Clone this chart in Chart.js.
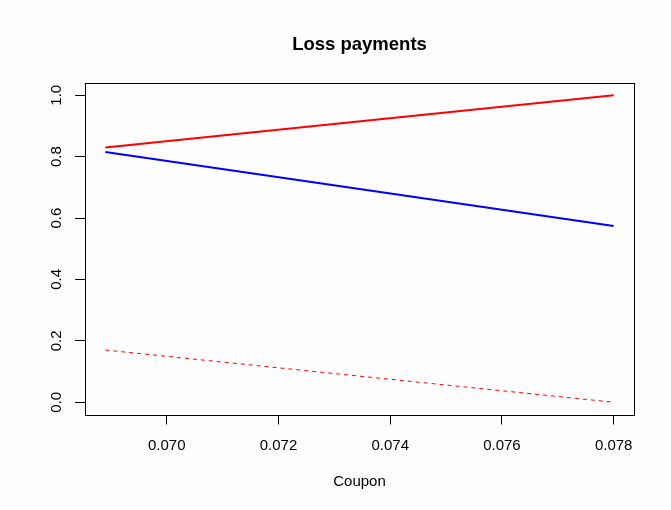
<!DOCTYPE html>
<html>
<head>
<meta charset="utf-8">
<title>Loss payments</title>
<script src="https://cdn.jsdelivr.net/npm/chart.js@4.4.1/dist/chart.umd.min.js"></script>
<style>
  html, body { margin: 0; padding: 0; background: #fdfdfd; }
  #wrap { width: 671px; height: 510px; }
</style>
</head>
<body>
<div id="wrap"><canvas id="chart" width="671" height="510"></canvas></div>
<script>
// Values
const coupon = [0.0689, 0.078];
const lossRed = [0.83, 1.0];
const lossBlue = [0.815, 0.574];
const lossRedDashed = [0.17, 0.0];
const xTicks = [0.070, 0.072, 0.074, 0.076, 0.078];
const yTicks = [0.0, 0.2, 0.4, 0.6, 0.8, 1.0];

const FONT = "'Liberation Sans', Arial, Helvetica, sans-serif";

// R style axis range: data range extended by 4% each side
function rRange(vals) {
  const lo = Math.min(...vals);
  const hi = Math.max(...vals);
  const pad = (hi - lo) * 0.04;
  return [lo - pad, hi + pad];
}

const [xMin, xMax] = rRange(coupon);
const [yMin, yMax] = rRange([...lossRed, ...lossBlue, ...lossRedDashed]);

const toPoints = (ys) => coupon.map((x, i) => ({ x: x, y: ys[i] }));

// Box round the plot region and the main title
const rPlotBox = {
  id: "rPlotBox",
  afterDraw(chart) {
    const { ctx, chartArea } = chart;
    ctx.save();
    ctx.strokeStyle = "#000";
    ctx.lineWidth = 1;
    ctx.strokeRect(
      Math.round(chartArea.left) + 0.5,
      Math.round(chartArea.top) + 0.5,
      Math.round(chartArea.right - chartArea.left),
      Math.round(chartArea.bottom - chartArea.top)
    );
    ctx.fillStyle = "#000";
    ctx.font = "bold 18.5px " + FONT;
    ctx.textAlign = "center";
    ctx.textBaseline = "alphabetic";
    ctx.fillText("Loss payments", (chartArea.left + chartArea.right) / 2, 50);
    ctx.restore();
  },
};

new Chart(document.getElementById("chart").getContext("2d"), {
  type: "scatter",
  data: {
    datasets: [
      {
        data: toPoints(lossRed),
        borderColor: "#ff0000",
        borderWidth: 2,
        showLine: true,
        pointRadius: 0,
      },
      {
        data: toPoints(lossBlue),
        borderColor: "#0000ff",
        borderWidth: 2,
        showLine: true,
        pointRadius: 0,
      },
      {
        data: toPoints(lossRedDashed),
        borderColor: "#ff0000",
        borderWidth: 1,
        borderDash: [4, 4],
        showLine: true,
        pointRadius: 0,
      },
    ],
  },
  options: {
    responsive: false,
    animation: false,
    devicePixelRatio: 1,
    layout: { padding: { top: 83, right: 37, bottom: 0, left: 0 } },
    plugins: {
      legend: { display: false },
      tooltip: { enabled: false },
    },
    scales: {
      x: {
        type: "linear",
        min: xMin,
        max: xMax,
        afterBuildTicks: (scale) => {
          scale.ticks = xTicks.map((v) => ({ value: v }));
        },
        afterFit: (scale) => {
          scale.height = 95.5;
        },
        border: { display: false },
        grid: {
          drawOnChartArea: false,
          drawTicks: true,
          tickLength: 10,
          color: "#000",
          lineWidth: 1,
        },
        ticks: {
          autoSkip: false,
          maxRotation: 0,
          padding: 12,
          color: "#000",
          font: { family: FONT, size: 15 },
          callback: (v) => Number(v).toFixed(3),
        },
        title: {
          display: true,
          text: "Coupon",
          color: "#000",
          font: { family: FONT, size: 15 },
          padding: { top: 0, bottom: 19 },
        },
      },
      y: {
        type: "linear",
        min: yMin,
        max: yMax,
        afterBuildTicks: (scale) => {
          scale.ticks = yTicks.map((v) => ({ value: v }));
        },
        afterFit: (scale) => {
          scale.width = 85;
        },
        border: { display: false },
        grid: {
          drawOnChartArea: false,
          drawTicks: true,
          tickLength: 10,
          color: "#000",
          lineWidth: 1,
        },
        ticks: {
          autoSkip: false,
          minRotation: 90,
          maxRotation: 90,
          crossAlign: "center",
          padding: 8,
          color: "#000",
          font: { family: FONT, size: 15 },
          callback: (v) => Number(v).toFixed(1),
        },
      },
    },
  },
  plugins: [rPlotBox],
});
</script>
</body>
</html>
